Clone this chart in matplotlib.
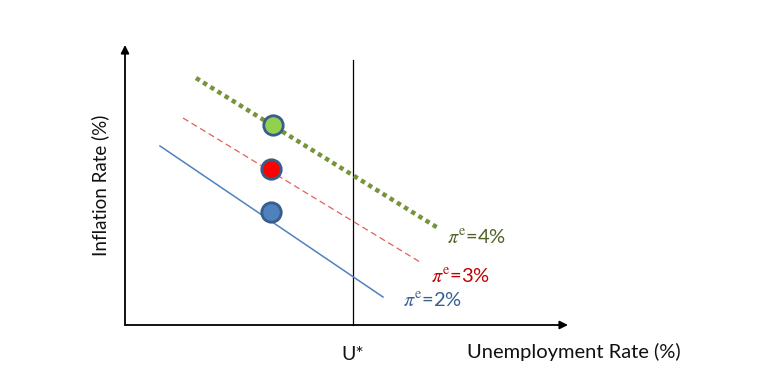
import matplotlib
matplotlib.use("Agg")
import matplotlib.pyplot as plt

# data in chart units (origin at axes corner)
green_x = [71, 313]; green_y = [247, 97]
red_x = [58, 295]; red_y = [207, 63]
blue_x = [35, 258]; blue_y = [179, 28]
dot_x = [148, 146, 146]
dot_y = [200, 156, 113]
dot_colors = ["#92D050", "#FF0000", "#4F81BD"]
ustar_x = 228
ustar_top = 265
yaxis_top = 280
xaxis_end = 443
labels = [r"$\pi^{\mathrm{e}}$=4%", r"$\pi^{\mathrm{e}}$=3%", r"$\pi^{\mathrm{e}}$=2%"]
label_x = [322, 306, 278]
label_y = [87, 48, 24]
label_colors = ["#4F6228", "#C00000", "#376092"]

plt.rcParams['font.family'] = ['Lato', 'DejaVu Sans']
plt.rcParams['mathtext.fontset'] = 'stix'

fig = plt.figure(figsize=(7.65, 3.9), dpi=100)
ax = fig.add_axes([0, 0, 1, 1])
ax.set_xlim(-125, 640)
ax.set_ylim(-65, 325)
ax.axis('off')

# axes arrows
ax.annotate("", xy=(0, yaxis_top), xytext=(0, 0),
            arrowprops=dict(arrowstyle="-|>", color="black", lw=1.3, mutation_scale=12, shrinkA=0, shrinkB=0))
ax.annotate("", xy=(xaxis_end, 0), xytext=(0, 0),
            arrowprops=dict(arrowstyle="-|>", color="black", lw=1.3, mutation_scale=12, shrinkA=0, shrinkB=0))
ax.plot([ustar_x, ustar_x], [0, ustar_top], color="black", lw=0.9)

ax.plot(green_x, green_y, color="#77933C", lw=3.2, linestyle=(0, (1, 0.9)), dash_capstyle='butt')
ax.plot(red_x, red_y, color="#E0605C", lw=0.9, linestyle=(0, (5, 3)))
ax.plot(blue_x, blue_y, color="#4F81BD", lw=1.1)

for x, y, c in zip(dot_x, dot_y, dot_colors):
    ax.plot(x, y, 'o', ms=14, mfc=c, mec="#385D8A", mew=2, zorder=5)

for t, x, y, c in zip(labels, label_x, label_y, label_colors):
    ax.text(x, y, t, color=c, fontsize=14.5, ha='left', va='center')

ax.text(ustar_x, -30, "U*", fontsize=14, ha='center', va='center', color="#111111")
ax.text(449, -27, "Unemployment Rate (%)", fontsize=14.5, ha='center', va='center', color="#111111")
ax.text(-25, 140, "Inflation Rate (%)", fontsize=13.5, ha='center', va='center', rotation=90, color="#111111")

fig.savefig("out.png", dpi=100)
